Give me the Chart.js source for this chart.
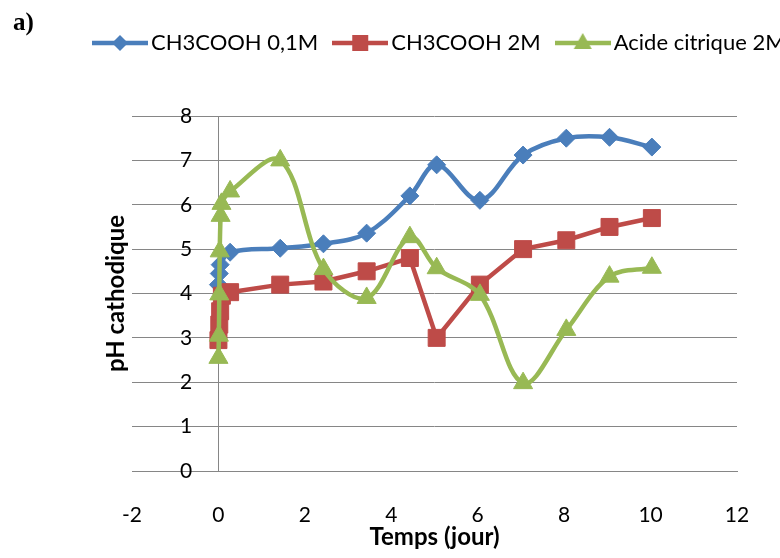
<!DOCTYPE html>
<html>
<head>
<meta charset="utf-8">
<script src="https://cdn.jsdelivr.net/npm/chart.js@4/dist/chart.umd.min.js"></script>
<style>
  html, body { margin: 0; padding: 0; background: #fff; overflow: hidden; width: 780px; height: 558px; }
  #wrap { position: relative; width: 900px; height: 558px; }
  #panel { position: absolute; left: 13px; top: 8px; font: bold 25px "Liberation Serif", serif; color: #000; }
  canvas { position: absolute; left: 0; top: 0; }
</style>
</head>
<body>
<div id="wrap">
  <canvas id="c" width="900" height="558"></canvas>
  <div id="panel">a)</div>
</div>
<script>
// Cathodic pH versus time (days) for three electrolytes
const seriesNames = ['CH3COOH 0,1M', 'CH3COOH 2M', 'Acide citrique 2M'];

const daysA = [0, 0.02, 0.04, 0.27, 1.43, 2.43, 3.43, 4.43, 5.05, 6.05, 7.05, 8.05, 9.05, 10.03];
const phA   = [4.2, 4.45, 4.65, 4.93, 5.02, 5.12, 5.36, 6.2, 6.9, 6.1, 7.12, 7.5, 7.52, 7.3];

const daysB = [0, 0.02, 0.04, 0.08, 0.27, 1.43, 2.43, 3.43, 4.43, 5.05, 6.05, 7.05, 8.05, 9.05, 10.03];
const phB   = [2.95, 3.3, 3.6, 3.95, 4.03, 4.2, 4.27, 4.5, 4.8, 3.0, 4.2, 5.0, 5.2, 5.5, 5.7];

const daysC = [0, 0.01, 0.02, 0.03, 0.05, 0.07, 0.27, 1.43, 2.43, 3.43, 4.43, 5.05, 6.05, 7.05, 8.05, 9.05, 10.03];
const phC   = [2.55, 3.05, 3.98, 4.95, 5.75, 6.02, 6.3, 7.0, 4.55, 3.9, 5.27, 4.57, 3.97, 1.98, 3.18, 4.38, 4.58];

const xTicks = { min: -2, max: 12, step: 2 };
const yTicks = { min: 0, max: 8, step: 1 };

const colors = ['#4A7EBB', '#BE4B48', '#98B954'];
const styles = ['rectRot', 'rect', 'triangle'];
const radii  = [9, 12, 11];
const tensions = [0.35, 0, 0.35];

const toPoints = (xs, ys) => xs.map((x, i) => ({ x: x, y: ys[i] }));
const pointSets = [toPoints(daysA, phA), toPoints(daysB, phB), toPoints(daysC, phC)];

// small legend swatches: line with its marker
function swatch(color, style) {
  const cv = document.createElement('canvas');
  cv.width = 56; cv.height = 24;
  const g = cv.getContext('2d');
  const cx = 28, cy = 12;
  g.strokeStyle = color; g.fillStyle = color; g.lineWidth = 4.5;
  g.beginPath(); g.moveTo(0, cy); g.lineTo(56, cy); g.stroke();
  g.beginPath();
  if (style === 'rectRot') {
    g.moveTo(cx - 8, cy); g.lineTo(cx, cy - 8); g.lineTo(cx + 8, cy); g.lineTo(cx, cy + 8);
  } else if (style === 'rect') {
    g.rect(cx - 8, cy - 8, 16, 16);
  } else {
    g.moveTo(cx, cy - 10); g.lineTo(cx + 9, cy + 6); g.lineTo(cx - 9, cy + 6);
  }
  g.closePath(); g.fill();
  return cv;
}

const gridGrey = '#868686';
const tickFont = { family: 'Lato', size: 21 };
const titleFont = { family: 'Lato', size: 24, weight: 'bold' };

const datasets = pointSets.map((pts, i) => ({
  label: seriesNames[i],
  data: pts,
  borderColor: colors[i],
  backgroundColor: colors[i],
  borderWidth: 4.5,
  pointStyle: styles[i],
  pointRadius: radii[i],
  pointBorderWidth: 1,
  pointBackgroundColor: colors[i],
  pointBorderColor: colors[i],
  tension: tensions[i],
  order: 2 - i,
  showLine: true,
  fill: false
}));

new Chart(document.getElementById('c'), {
  type: 'scatter',
  data: { datasets: datasets },
  options: {
    responsive: false,
    animation: false,
    devicePixelRatio: 1,
    layout: { padding: { left: 78, right: 0, top: 10, bottom: 6 } },
    plugins: {
      tooltip: { enabled: false },
      legend: {
        position: 'top',
        align: 'start',
        labels: {
          font: { family: 'Lato', size: 22 },
          color: '#000',
          padding: 22,
          usePointStyle: true,
          pointStyleWidth: 40,
          generateLabels: (chart) => chart.data.datasets.map((ds, i) => ({
            text: ds.label,
            pointStyle: swatch(colors[i], styles[i]),
            fillStyle: colors[i],
            strokeStyle: colors[i],
            lineWidth: 0,
            hidden: false,
            datasetIndex: i
          }))
        }
      }
    },
    scales: {
      x: {
        type: 'linear',
        position: 'bottom',
        min: xTicks.min, max: xTicks.max,
        ticks: { stepSize: xTicks.step, font: tickFont, color: '#000', padding: 32, maxRotation: 0 },
        // only the vertical line at x = 0 is shown (the value axis)
        grid: {
          drawTicks: false,
          lineWidth: 1,
          color: (ctx) => (ctx.tick && ctx.tick.value === 0 ? gridGrey : 'rgba(0,0,0,0)')
        },
        border: { display: true, color: gridGrey, width: 1 },
        title: { display: true, text: 'Temps (jour)', font: titleFont, color: '#000', padding: { top: 0, bottom: 0 } },
        afterFit: (s) => { s.height = 81; }
      },
      y: {
        type: 'linear',
        position: 'left',
        min: yTicks.min, max: yTicks.max,
        ticks: { stepSize: yTicks.step, font: tickFont, color: '#000', mirror: true, padding: 48 },
        grid: { color: gridGrey, lineWidth: 1, drawTicks: false },
        border: { display: false },
        title: { display: true, text: 'pH cathodique', font: titleFont, color: '#000', padding: { top: 24, bottom: 0 } },
        afterFit: (s) => { s.width = 54; }
      },
      yRight: {
        type: 'linear',
        position: 'right',
        display: true,
        ticks: { display: false },
        grid: { display: false, drawTicks: false },
        border: { display: false },
        afterFit: (s) => { s.width = 163; }
      },
      xTop: {
        type: 'linear',
        position: 'top',
        display: true,
        ticks: { display: false },
        grid: { display: false, drawTicks: false },
        border: { display: false },
        afterFit: (s) => { s.height = 52; }
      }
    }
  }
});
</script>
</body>
</html>
